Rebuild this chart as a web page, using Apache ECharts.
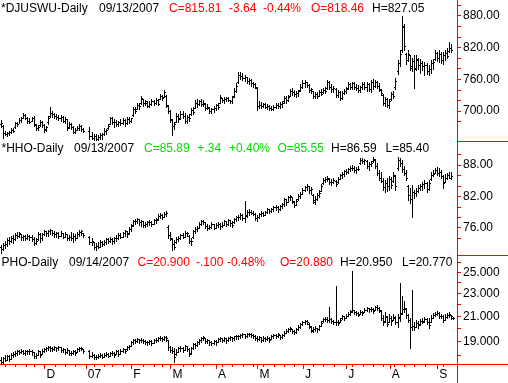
<!DOCTYPE html>
<html><head><meta charset="utf-8">
<script src="https://cdn.jsdelivr.net/npm/echarts@6/dist/echarts.min.js"></script>
<style>html,body{margin:0;padding:0;background:#fff;}#c{width:508px;height:383px;}</style>
</head><body><div id="c"></div>
<script>
// ---- calendar (trading days; Jan 1-2 2007 are empty slots in the source chart)
const firstDay = '2006-11-01', lastDay = '2007-09-14';
const holidays = ['2006-11-23','2006-12-25','2007-01-15','2007-02-19','2007-04-06','2007-05-28','2007-07-04','2007-09-03'];
const dates = [];
for (let d = new Date(firstDay + 'T00:00:00Z'); d <= new Date(lastDay + 'T00:00:00Z'); d.setUTCDate(d.getUTCDate() + 1)) {
  const wd = d.getUTCDay(); if (wd === 0 || wd === 6) continue;
  const s = d.toISOString().slice(0, 10); if (holidays.includes(s)) continue;
  dates.push(s);
}
dates.push(''); // spare slot at right edge

// ---- *DJUSWU (daily OHLC)
const djOpen = [675,672,658,656,659,661,665,670,677,676, 683,687,693,687,681,682,686,673,668,673, 680,674,666,680,690,697,694,690,689,686, 688,682,684,670,676,670,661,665,668,672, 666,null,null,663,652,650,652,648,651,655, 656,662,668,676,686,679,680,675,679,677, 683,678,684,682,692,703,704,712,715,722, 716,716,710,714,718,715,720,722,729,726, 728,710,700,683,672,680,690,686,695,690, 682,688,694,702,706,716,713,718,714,714, 706,706,700,703,706,711,716,724,720,722, 724,720,719,728,738,755,768,766,762,764, 756,758,752,750,744,710,712,709,713,708, 710,706,704,708,712,709,714,718,725,720, 729,738,735,732,734,740,746,752,754,749, 740,737,728,732,729,736,735,740,744,754, 746,742,742,730,736,724,734,738,743,750, 745,752,746,744,740,745,751,746,750,742, 755,748,754,748,740,730,716,722,712,722, 732,745,775,790,815,858,808,796,805,782, 795,782,796,786,790,784,786,776,780,790, 798,810,800,808,796,806,810,814,818.46,null];
const djHigh = [683,674,662,661,662,668,667,680,679,686, 688,696,695,689,686,688,690,675,673,683, 682,676,672,690,708,700,697,694,693,692, 690,688,684,680,678,672,668,672,675,673, 668,null,null,670,660,657,656,655,659,658, 667,666,676,689,688,684,683,682,684,686, 684,688,689,687,707,708,715,716,728,722, 721,718,718,722,721,724,722,732,730,740, 730,711,702,684,680,696,694,700,700,696, 692,694,706,707,720,722,721,722,720,716, 713,708,706,710,714,715,730,725,726,726, 727,721,728,743,752,773,774,772,768,765, 762,760,755,752,745,718,717,716,715,714, 712,710,712,716,716,717,718,728,728,730, 742,743,740,738,740,750,758,758,755,750, 744,738,736,735,740,741,744,745,758,756, 750,747,744,740,738,738,742,745,754,752, 755,754,750,749,748,755,754,754,752,758, 760,758,757,752,742,732,726,724,722,735, 738,762,796,815,880,865,810,815,806,800, 806,805,800,798,795,792,790,786,796,798, 815,812,815,812,812,816,818,830,827.05,null];
const djLow = [670,649,654,653,655,659,660,668,672,677, 680,686,684,678,677,681,672,665,664,672, 670,661,662,676,688,689,686,684,683,682, 679,678,664,668,666,658,658,664,664,663, 660,null,null,647,647,646,645,645,648,648, 654,657,666,675,676,670,671,672,673,675, 672,676,678,680,690,696,703,704,714,710, 711,707,708,712,711,713,711,722,720,726, 707,696,680,655,666,679,680,684,686,678, 678,682,692,694,706,708,711,710,710,702, 703,697,696,698,702,704,715,717,716,719, 718,715,716,726,736,752,760,758,756,752, 750,748,745,743,702,706,706,707,705,704, 702,701,702,705,706,706,708,716,716,718, 728,730,728,726,728,738,744,746,745,736, 734,725,724,725,728,730,734,734,742,742, 736,735,726,727,720,722,732,734,742,741, 742,742,740,736,736,742,742,738,738,736, 742,745,744,738,730,712,710,708,706,720, 724,742,770,785,812,815,788,795,778,775, 743,778,780,772,778,768,770,768,772,780, 796,795,792,790,788,796,800,812,812,null];
const djClose = [678,658,657,659,660,665,663,677,675,683, 686,693,687,681,680,686,675,668,670,680, 674,665,670,686,697,694,690,689,686,688, 682,685,668,676,670,661,665,668,672,666, 663,null,null,652,650,652,648,651,655,656, 662,664,672,686,679,680,675,679,677,683, 678,684,682,686,703,700,712,709,725,716, 718,710,714,718,715,720,713,729,724,736, 712,700,685,672,675,690,684,695,690,682, 688,686,702,698,716,713,718,714,716,706, 708,700,703,706,711,708,726,720,722,724, 721,719,726,738,748,768,766,762,765,756, 758,752,750,746,710,712,709,713,708,710, 706,704,708,712,709,714,716,725,720,727, 738,735,732,734,737,746,752,754,749,740, 742,728,732,729,736,733,740,738,754,746, 742,744,730,736,724,734,738,742,750,745, 752,746,744,740,745,751,746,750,742,755, 748,754,748,742,734,716,722,712,718,732, 728,756,790,808,860,822,796,808,784,795, 780,798,786,790,784,786,776,780,790,792, 810,800,808,796,806,810,804,819.45,815.81,null];

// ---- *HHO (daily OHLC)
const hhoOpen = [72.4,72.0,72.6,72.8,73.6,73.4,74.1,73.8,74.6,74.5, 74.8,74.2,74.4,74.0,74.5,74.2,73.8,73.0,73.8,74.8, 74.0,74.8,75.3,74.9,75.4,75.5,75.0,74.8,74.9,74.5, 75.0,74.3,74.8,74.0,74.3,74.0,74.5,74.1,74.8,75.2, 75.0,null,null,74.2,73.3,73.2,72.3,72.5,72.4,73.2, 72.9,73.3,73.8,73.5,73.9,73.4,74.0,74.1,74.6,74.3, 74.9,75.3,74.9,75.8,76.5,77.2,77.3,77.6,77.0,77.3, 76.6,76.8,77.0,77.1,76.7,77.4,77.6,78.2,78.4,78.0, 78.6,76.2,74.6,73.8,72.8,73.2,73.8,74.1,74.6,74.3, 75.0,74.4,73.5,74.2,75.4,75.8,76.0,76.8,77.2,77.0, 76.4,76.0,76.2,76.7,76.0,76.5,76.8,76.3,76.6,77.2, 76.8,77.4,76.9,77.0,77.6,78.0,78.1,78.5,77.9,78.4, 79.0,79.1,78.9,78.6,77.9,78.0,78.6,78.8,78.5,79.0, 79.5,79.2,79.6,79.9,80.0,79.5,80.1,80.5,81.4,80.9, 81.8,81.9,81.0,80.4,81.4,82.1,82.5,83.3,83.7,84.0, 83.2,82.2,81.0,81.5,82.2,83.0,84.5,85.2,85.3,85.4, 84.8,84.8,85.0,84.8,85.4,86.0,86.2,86.9,86.6,87.2, 87.5,87.4,87.1,87.3,88.4,89.0,88.8,88.8,87.8,88.2, 88.8,89.0,87.8,86.5,85.6,85.0,83.8,84.5,84.0,85.4, 85.0,85.8,87.5,88.9,88.3,87.3,86.4,84.0,82.2,81.5, 82.8,82.6,83.0,83.6,83.9,84.3,84.6,83.5,85.3,86.1, 86.5,87.1,86.5,86.6,85.9,84.8,85.6,86.0,85.55,null];
const hhoHigh = [72.7,73.1,73.5,74.0,74.2,74.4,74.6,75.0,75.2,75.2, 74.8,74.6,74.6,74.8,74.6,74.6,74.2,74.0,75.2,75.0, 75.0,75.6,75.4,75.6,75.7,75.6,75.4,75.2,75.2,75.4, 75.0,75.2,74.8,74.6,75.2,75.0,74.8,75.2,75.6,75.6, 75.0,null,null,74.4,74.0,73.3,73.1,73.3,73.7,73.5, 73.7,74.0,74.0,74.2,74.0,74.2,74.6,75.0,75.0,75.2, 75.6,75.4,76.1,76.7,77.5,77.7,77.9,77.7,77.5,77.3, 77.1,77.3,77.5,77.3,77.7,77.9,78.6,78.8,78.6,79.0, 79.2,76.5,75.2,74.0,73.6,74.2,74.4,74.8,75.0,75.4, 75.2,74.6,74.0,75.6,76.1,76.3,77.1,77.5,77.5,77.1, 76.7,76.5,77.1,76.7,76.9,77.1,76.9,77.1,77.5,77.3, 77.7,77.5,77.3,77.9,78.2,78.4,78.8,78.6,81.1,79.4, 79.6,79.4,79.2,78.8,78.4,78.8,79.2,79.0,79.2,79.8, 79.6,79.8,80.2,80.3,80.2,80.3,80.7,81.7,81.5,82.1, 82.3,81.9,81.1,81.5,82.4,82.8,83.6,84.0,84.4,84.0, 83.8,82.4,82.1,82.6,83.2,84.4,85.5,85.7,85.9,85.5, 85.3,85.5,85.1,85.7,86.3,86.7,87.0,87.2,87.4,87.8, 88.0,87.8,87.6,87.8,89.3,89.3,89.2,89.0,88.6,88.8, 89.5,89.2,88.4,87.0,86.7,85.5,85.1,85.5,85.9,85.7, 86.7,86.1,89.5,89.3,89.0,87.8,87.0,84.2,83.6,84.2, 83.2,83.6,84.2,84.4,84.7,85.1,84.7,85.1,86.7,87.0, 87.4,87.6,87.4,87.0,86.1,86.3,86.5,86.7,86.59,null];
const hhoLow = [71.2,71.7,72.1,72.5,72.9,73.3,73.1,73.6,74.0,74.2, 73.6,73.6,73.6,73.8,73.6,73.4,72.7,72.9,73.6,73.3, 73.6,74.6,74.4,74.4,74.8,74.6,74.2,74.2,74.0,74.4, 74.0,74.2,73.6,73.6,73.6,73.3,73.6,74.0,74.4,74.6, 74.2,null,null,72.9,72.7,71.9,71.7,72.1,72.3,72.5, 72.7,72.9,73.1,73.3,72.9,73.1,73.4,73.8,74.0,74.2, 74.4,74.2,74.8,75.4,76.3,76.7,76.9,76.5,76.3,76.1, 76.1,76.3,76.5,76.3,76.7,76.9,77.5,77.9,77.7,78.0, 78.2,74.0,73.6,71.7,71.9,73.1,73.4,73.8,74.0,74.2, 74.4,73.1,72.7,74.0,75.0,75.4,75.9,76.5,76.7,75.9, 75.6,75.7,75.9,75.7,75.9,76.1,75.7,76.1,76.5,76.3, 76.5,76.3,76.1,76.9,77.3,77.5,77.7,77.5,77.1,78.0, 78.4,78.6,78.4,77.5,77.3,77.9,78.2,78.2,78.4,78.8, 78.8,79.0,79.2,79.4,79.0,79.4,79.8,80.2,80.3,80.9, 81.3,80.7,80.0,80.3,81.3,81.7,82.4,83.0,83.2,82.6, 82.4,80.7,80.5,81.3,81.9,83.0,84.4,84.7,84.9,84.4, 84.2,84.6,84.0,84.6,85.3,85.5,85.9,86.3,86.5,86.9, 87.0,86.7,86.5,87.0,88.2,88.4,88.2,87.4,87.0,87.8, 88.6,87.4,86.1,85.1,84.7,83.2,82.8,83.0,83.2,83.6, 84.7,83.2,87.0,87.8,86.7,86.1,85.1,81.3,80.7,78.0, 81.7,82.1,82.8,83.2,83.2,83.6,82.8,83.2,85.1,85.9, 86.5,86.1,85.9,85.5,83.6,84.7,85.3,85.5,85.40,null];
const hhoClose = [72.0,72.6,72.8,73.6,73.4,74.1,73.8,74.6,74.5,75.0, 74.2,74.4,74.0,74.5,74.2,73.8,73.0,73.4,74.8,74.0, 74.7,75.3,74.9,75.4,75.5,75.0,74.8,74.9,74.4,75.0, 74.3,74.8,74.0,74.3,74.0,74.5,74.1,74.8,75.2,75.4, 74.6,null,null,73.3,73.4,72.3,72.5,72.4,73.2,72.9, 73.3,73.8,73.5,73.9,73.4,74.0,74.1,74.6,74.3,74.9, 75.3,74.8,75.8,76.4,77.2,77.3,77.6,77.0,77.3,76.6, 76.8,77.0,77.1,76.7,77.4,77.5,78.2,78.4,78.0,78.6, 78.9,74.6,74.0,72.8,72.4,73.8,74.1,74.6,74.3,75.0, 74.9,73.5,73.4,75.4,75.8,76.0,76.8,77.2,77.0,76.4, 76.0,76.2,76.7,76.0,76.5,76.8,76.3,76.6,77.2,76.8, 77.4,76.9,76.6,77.6,78.0,78.1,78.5,77.9,78.2,79.0, 79.1,78.9,78.6,77.9,78.0,78.6,78.8,78.5,79.0,79.5, 79.2,79.6,79.9,80.0,79.5,80.1,80.5,81.4,80.9,81.8, 82.0,81.2,80.4,81.2,82.1,82.5,83.3,83.7,84.0,83.2, 83.5,81.3,81.5,82.2,82.6,84.0,85.2,85.3,85.6,84.8, 84.8,85.1,84.4,85.4,86.0,86.2,86.8,86.6,87.2,87.5, 87.4,87.1,87.3,87.2,89.0,88.8,89.0,87.8,88.2,88.4, 89.2,87.8,86.5,85.6,85.0,83.8,84.5,84.0,85.4,84.2, 86.1,83.9,88.9,88.3,87.3,86.4,85.5,82.2,81.5,82.8, 82.6,83.0,83.6,83.9,84.3,84.6,83.5,84.5,86.1,86.3, 87.1,86.5,86.6,85.9,84.5,85.6,86.0,85.55,85.89,null];

// ---- PHO (daily OHLC)
const phoOpen = [17.7,17.55,17.8,17.7,17.95,17.75,18.0,18.1,18.2,18.3, 18.25,18.35,18.2,18.3,18.35,18.3,18.25,17.95,18.0,18.3, 18.1,18.35,18.45,18.5,18.6,18.55,18.45,18.6,18.5,18.6, 18.4,18.45,18.25,18.4,18.2,18.15,18.3,18.25,18.45,18.55, 18.45,null,null,18.3,17.95,18.05,17.85,17.9,17.95,18.05, 17.9,18.05,18.1,17.95,18.15,18.2,18.1,18.3,18.1,18.35, 18.45,18.45,18.6,18.7,18.95,19.1,19.05,19.2,19.1,19.15, 19.05,19.0,18.95,19.05,18.9,19.1,19.15,19.25,19.3,19.2, 19.35,19.1,18.6,18.4,18.35,18.1,18.25,18.5,18.55,18.4, 18.65,18.45,18.2,18.5,18.8,18.75,18.95,19.1,19.25,19.3, 19.05,19.1,18.95,18.9,19.05,19.0,19.2,19.25,19.1,19.25, 19.1,19.3,19.35,19.25,19.4,19.45,19.4,19.5,19.55,19.45, 19.6,19.55,19.5,19.45,19.25,19.2,19.35,19.15,19.3,19.2, 19.3,19.2,19.4,19.5,19.45,19.5,19.35,19.5,19.7,19.85, 19.95,20.0,19.8,19.75,19.95,20.15,20.35,20.5,20.6,20.4, 20.1,19.85,20.0,20.05,19.95,20.25,20.6,20.75,20.8,20.7, 20.75,20.6,20.5,20.55,20.55,20.85,21.0,20.85,21.05,21.2, 21.45,21.5,21.35,21.3,21.2,21.4,21.4,21.55,21.7,21.6, 21.65,21.55,21.8,21.7,21.45,20.9,20.6,20.95,20.55,20.85, 20.7,20.9,20.5,20.95,21.3,21.6,21.65,21.1,20.7,20.1, 20.2,20.15,20.45,20.35,20.6,20.6,20.75,20.5,20.55,20.85, 21.1,21.2,21.3,21.0,21.05,20.7,20.95,21.1,21.15,20.88];
const phoHigh = [17.85,17.9,18.0,18.05,18.0,18.15,18.25,18.3,18.4,18.4, 18.45,18.4,18.4,18.4,18.45,18.4,18.25,18.15,18.4,18.3, 18.45,18.55,18.6,18.7,18.7,18.6,18.7,18.6,18.7,18.6, 18.55,18.45,18.55,18.4,18.3,18.4,18.4,18.55,18.6,18.6, 18.45,null,null,18.4,18.25,18.1,18.0,18.1,18.15,18.1, 18.15,18.25,18.15,18.25,18.3,18.25,18.4,18.4,18.45,18.55, 18.45,18.7,18.75,19.05,19.2,19.2,19.3,19.2,19.3,19.2, 19.15,19.05,19.15,19.15,19.2,19.3,19.35,19.45,19.35,19.45, 19.45,19.15,18.7,18.6,18.55,18.45,18.6,18.7,18.6,18.75, 18.7,18.55,18.6,18.9,18.9,19.05,19.2,19.35,19.45,19.3, 19.2,19.15,19.05,19.15,19.15,19.3,19.35,19.3,19.35,19.3, 19.35,19.45,19.35,19.45,19.5,19.5,19.6,19.65,19.6,19.65, 19.65,19.65,19.6,19.5,19.45,19.45,19.35,19.45,19.35,19.45, 19.35,19.5,19.6,19.6,19.65,19.5,19.6,19.85,20.0,20.05, 20.15,20.0,19.9,20.05,20.3,20.45,20.6,20.7,20.7,20.45, 20.2,20.15,20.2,20.05,20.3,20.6,20.85,20.95,20.95,21.8, 20.85,20.7,23.7,20.7,20.85,21.1,21.05,21.2,21.35,21.55, 25.15,21.55,21.45,21.35,21.55,21.45,21.7,21.8,21.7,21.8, 21.7,21.9,21.95,21.8,21.55,21.1,21.35,21.0,21.2,21.0, 21.2,21.0,21.2,23.95,22.8,22.3,21.7,21.2,20.85,23.3, 20.55,20.7,20.6,20.75,20.85,20.95,20.85,20.85,21.1,21.3, 21.35,21.45,21.35,21.2,21.1,21.2,21.3,21.35,21.15,20.95];
const phoLow = [17.45,17.5,17.6,17.65,17.6,17.75,17.9,17.95,18.0,18.1, 18.15,18.1,18.0,18.1,18.1,18.0,17.8,17.8,18.0,17.9, 18.1,18.25,18.3,18.4,18.3,18.3,18.4,18.3,18.4,18.25, 18.25,18.1,18.15,18.0,18.0,18.1,18.0,18.25,18.3,18.4, 18.15,null,null,17.8,17.9,17.75,17.75,17.8,17.85,17.8, 17.85,17.95,17.85,17.95,18.0,17.85,18.1,17.95,18.1,18.25, 18.15,18.4,18.45,18.65,18.8,18.9,19.0,18.9,19.0,18.9, 18.85,18.75,18.85,18.75,18.9,19.0,19.05,19.15,19.05,19.15, 19.05,18.4,18.25,18.15,17.55,18.0,18.25,18.3,18.25,18.4, 18.3,17.95,18.1,18.45,18.55,18.65,18.8,19.0,19.15,18.9, 18.9,18.75,18.75,18.85,18.75,19.0,19.05,19.0,19.05,18.9, 19.05,19.15,19.05,19.15,19.2,19.2,19.3,19.35,19.3,19.35, 19.45,19.35,19.3,19.15,19.05,19.15,19.0,19.05,19.05,19.15, 19.0,19.2,19.3,19.3,19.35,19.2,19.3,19.45,19.65,19.75, 19.8,19.65,19.6,19.65,19.9,20.05,20.3,20.4,20.4,20.05, 19.75,19.75,19.8,19.75,19.9,20.2,20.55,20.6,20.55,20.55, 20.45,20.4,20.3,20.3,20.55,20.8,20.7,20.85,21.05,21.1, 21.35,21.2,21.1,21.05,21.2,21.1,21.35,21.45,21.35,21.45, 21.3,21.55,21.55,21.35,20.7,20.3,20.55,20.2,20.55,20.3, 20.7,20.4,20.15,20.6,21.2,21.35,20.9,20.55,18.5,19.9, 19.9,20.15,20.05,20.3,20.45,20.55,20.4,20.05,20.55,20.85, 21.05,21.1,20.85,20.85,20.55,20.7,20.85,20.95,20.8,20.77];
const phoClose = [17.55,17.8,17.7,17.95,17.75,18.0,18.1,18.2,18.3,18.25, 18.35,18.2,18.3,18.35,18.3,18.25,17.95,18.0,18.3,18.05, 18.35,18.45,18.5,18.6,18.55,18.45,18.6,18.5,18.6,18.4, 18.45,18.25,18.4,18.2,18.15,18.3,18.2,18.45,18.55,18.5, 18.3,null,null,17.95,18.05,17.85,17.9,17.95,18.05,17.9, 18.05,18.1,17.95,18.15,18.2,18.0,18.3,18.1,18.35,18.45, 18.3,18.6,18.7,18.95,19.1,19.05,19.2,19.1,19.15,19.05, 19.0,18.95,19.05,18.9,19.1,19.15,19.25,19.3,19.2,19.35, 19.3,18.6,18.4,18.35,17.9,18.25,18.5,18.55,18.4,18.65, 18.45,18.1,18.5,18.8,18.75,18.95,19.1,19.25,19.35,19.05, 19.1,18.95,18.9,19.05,18.95,19.2,19.25,19.1,19.25,19.1, 19.3,19.35,19.25,19.4,19.45,19.4,19.5,19.55,19.45,19.6, 19.55,19.5,19.45,19.25,19.2,19.35,19.15,19.3,19.2,19.3, 19.15,19.4,19.5,19.45,19.55,19.35,19.5,19.7,19.85,19.95, 20.05,19.8,19.75,19.95,20.15,20.35,20.5,20.6,20.55,20.2, 19.9,20.0,20.05,19.95,20.2,20.45,20.75,20.8,20.7,20.8, 20.6,20.5,20.55,20.45,20.7,21.0,20.85,21.05,21.2,21.4, 21.5,21.35,21.3,21.15,21.4,21.25,21.55,21.7,21.6,21.65, 21.45,21.8,21.7,21.5,20.85,20.5,21.0,20.4,20.85,20.6, 20.95,20.55,20.9,21.2,21.6,21.7,21.1,20.7,20.1,20.2, 20.1,20.45,20.3,20.6,20.55,20.75,20.5,20.3,20.85,21.1, 21.2,21.3,21.0,21.05,20.7,20.95,21.1,21.2,21.0,20.9];

// ---- axis ticks / labels
const djTicks = [680,700,720,740,760,780,800,820,840,860,880,900];
const djLabels = [700,760,820,880];
const hhoTicks = [74,76,78,80,82,84,86,88,90];
const hhoLabels = [76,82,88];
const phoTicks = [18,19,20,21,22,23,24,25,26];
const phoLabels = [19,21,23,25];
const monthLetters = ['J','F','M','A','M','J','J','A','S','O','N','D'];

// ---- header texts
const headers = [
  {y: 3, parts: [['*DJUSWU-Daily',1,'#000'],['09/13/2007',99,'#000'],['C=815.81',169,'#f00'],['-3.64',229,'#f00'],['-0.44%',263,'#f00'],['O=818.46',311,'#f00'],['H=827.05',372,'#000']]},
  {y: 143, parts: [['*HHO-Daily',1.5,'#000'],['09/13/2007',74,'#000'],['C=85.89',144,'#00e000'],['+.34',197.5,'#00e000'],['+0.40%',229,'#00e000'],['O=85.55',277.5,'#00e000'],['H=86.59',331,'#000'],['L=85.40',385.5,'#000']]},
  {y: 257, parts: [['PHO-Daily',1.5,'#000'],['09/14/2007',69,'#000'],['C=20.900',137.5,'#f00'],['-.100',196,'#f00'],['-0.48%',227,'#f00'],['O=20.880',280,'#f00'],['H=20.950',340,'#000'],['L=20.770',402,'#000']]}
];

function toData(o, h, l, c) {
  const out = [];
  for (let i = 0; i < c.length; i++) if (c[i] != null) out.push([i, o[i], h[i], l[i], c[i]]);
  return out;
}
const monthStart = dates.map((d, i) => i > 0 && d !== '' && d.slice(0, 7) !== dates[i - 1].slice(0, 7));
const weekEnd = dates.map((d, i) => {
  const n = dates[i + 1]; if (!d || !n) return false;
  return new Date(n + 'T00:00:00Z').getUTCDay() <= new Date(d + 'T00:00:00Z').getUTCDay();
});
const minorTick = dates.map((d, i) => weekEnd[i] && !monthStart[i] && !monthStart[i + 1] && !monthStart[i - 1]);

function renderOHLC(params, api) {
  const i = api.value(0);
  const pH = api.coord([i, api.value(2)]), pL = api.coord([i, api.value(3)]);
  const pO = api.coord([i, api.value(1)]), pC = api.coord([i, api.value(4)]);
  const x = Math.floor(pH[0]);
  const yH = Math.round(pH[1]), yL = Math.round(pL[1]);
  const st = {fill: '#000'};
  return {type: 'group', silent: true, children: [
    {type: 'rect', shape: {x: x, y: yH, width: 1, height: Math.max(1, yL - yH + 1)}, style: st},
    {type: 'rect', shape: {x: x - 1, y: Math.round(pO[1]), width: 1, height: 1}, style: st},
    {type: 'rect', shape: {x: x + 1, y: Math.round(pC[1]), width: 1, height: 1}, style: st}
  ]};
}

const FONT = 'Liberation Sans, Arial, sans-serif';
const red = '#ff0000';
function yAxis(grid, type, min, max, ticks, labels, dec) {
  return {gridIndex: grid, type: type, position: 'right', min: min, max: max,
    axisLine: {show: false}, splitLine: {show: false},
    axisTick: {show: true, length: 4, lineStyle: {color: red, width: 1}, customValues: ticks},
    axisLabel: {show: true, customValues: labels, formatter: v => Number(v).toFixed(dec),
      color: '#000', fontFamily: FONT, fontSize: 12, margin: 6}};
}
const hiddenX = g => ({gridIndex: g, type: 'category', data: dates, boundaryGap: true, show: false});

const graphics = [
  {type: 'line', silent: true, shape: {x1: 457.5, y1: 0, x2: 457.5, y2: 383}, style: {stroke: red, lineWidth: 1}},
  {type: 'line', silent: true, shape: {x1: 0, y1: 364.5, x2: 508, y2: 364.5}, style: {stroke: red, lineWidth: 1}},
  {type: 'line', silent: true, shape: {x1: 457, y1: 141.5, x2: 508, y2: 141.5}, style: {stroke: red, lineWidth: 1}},
  {type: 'line', silent: true, shape: {x1: 457, y1: 255.5, x2: 508, y2: 255.5}, style: {stroke: red, lineWidth: 1}}
];
headers.forEach(h => h.parts.forEach(p => graphics.push({type: 'text', silent: true, x: p[1], y: h.y,
  style: {text: p[0], fill: p[2], font: '12px ' + FONT, verticalAlign: 'top'}})));

const chart = echarts.init(document.getElementById('c'), null, {renderer: 'canvas'});
chart.setOption({
  animation: false,
  backgroundColor: '#fff',
  grid: [
    {left: -0.5, right: 51, top: 0, height: 141},
    {left: -0.5, right: 51, top: 141, height: 114},
    {left: -0.5, right: 51, top: 255, height: 109}
  ],
  xAxis: [
    hiddenX(0), hiddenX(1),
    {gridIndex: 2, type: 'category', data: dates, boundaryGap: true, position: 'bottom',
      axisLine: {show: false},
      axisTick: {show: true, alignWithLabel: true, length: 5, lineStyle: {color: red}, interval: (i) => monthStart[i]},
      axisLabel: {show: true, interval: (i) => monthStart[i], align: 'left', padding: [0, 0, 0, 2], margin: 5,
        color: '#000', fontFamily: FONT, fontSize: 12,
        formatter: v => { const m = +v.slice(5, 7); return m === 1 ? v.slice(2, 4) : monthLetters[m - 1]; }}},
    {gridIndex: 2, type: 'category', data: dates, boundaryGap: true, position: 'bottom',
      axisLine: {show: false}, axisLabel: {show: false},
      axisTick: {show: true, alignWithLabel: true, length: 3, lineStyle: {color: red}, interval: (i) => minorTick[i]}}
  ],
  yAxis: [
    yAxis(0, 'value', 643.4, 909.4, djTicks, djLabels, 2),
    yAxis(1, 'value', 70.775, 92.593, hhoTicks, hhoLabels, 2),
    Object.assign(yAxis(2, 'log', 17.397, 26.77, phoTicks, phoLabels, 3), {logBase: 10})
  ],
  series: [
    {type: 'custom', xAxisIndex: 0, yAxisIndex: 0, renderItem: renderOHLC, data: toData(djOpen, djHigh, djLow, djClose), encode: {x: 0, y: [1, 2, 3, 4]}, clip: false},
    {type: 'custom', xAxisIndex: 1, yAxisIndex: 1, renderItem: renderOHLC, data: toData(hhoOpen, hhoHigh, hhoLow, hhoClose), encode: {x: 0, y: [1, 2, 3, 4]}, clip: false},
    {type: 'custom', xAxisIndex: 2, yAxisIndex: 2, renderItem: renderOHLC, data: toData(phoOpen, phoHigh, phoLow, phoClose), encode: {x: 0, y: [1, 2, 3, 4]}, clip: false}
  ],
  graphic: graphics
});
</script></body></html>
